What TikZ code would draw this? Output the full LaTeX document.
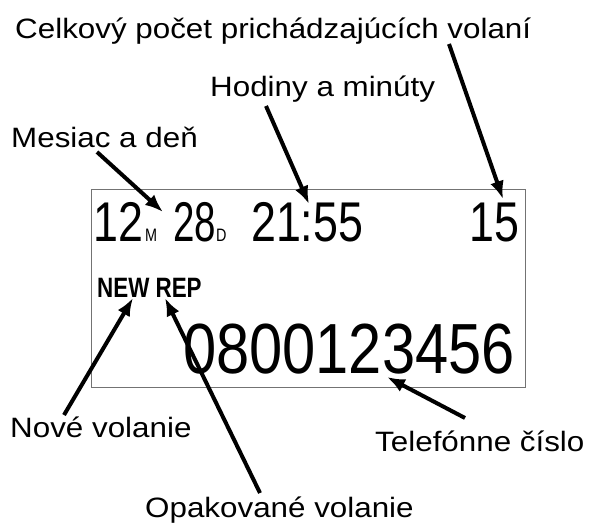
\documentclass[tikz,border=0pt]{standalone}
\usepackage{fontspec}
\setmainfont{Liberation Sans}
\usetikzlibrary{arrows.meta,calc}

\begin{document}
\begin{tikzpicture}[
  x=1pt,y=-1pt,
  lbl/.style={anchor=base west,inner sep=0pt,xscale=1.12,font=\fontsize{28}{30}\selectfont},
  lcd/.style={anchor=base west,inner sep=0pt,xscale=0.8,font=\fontsize{56}{60}\selectfont},
  lcdsub/.style={anchor=base west,inner sep=0pt,xscale=0.8,font=\fontsize{18}{19}\selectfont},
  flag/.style={anchor=base west,inner sep=0pt,xscale=0.8,font=\bfseries\fontsize{28}{30}\selectfont},
  number/.style={anchor=base west,inner sep=0pt,xscale=0.84,font=\fontsize{71}{75}\selectfont},
  screen/.style={draw=black!55,line width=1.2pt,inner sep=0pt},
  pointer/.style={line width=4pt,-{Latex[length=18pt,width=14pt]}},
]
\useasboundingbox (0,0) rectangle (595,524);

% display
\node[screen,anchor=north west,minimum width=434pt,minimum height=198pt] (screen) at (91,189) {};
\node[lcd] (month) at (93,242) {12};
\node[lcdsub] (msub) at (145,242) {M};
\node[lcd,xscale=0.86] (day) at (173,242) {28};
\node[lcdsub] (dsub) at (216,242) {D};
\node[lcd] (clock) at (251,242) {21:55};
\node[lcd] (total) at (469,242) {15};
\node[flag] (flags) at (97,298) {NEW REP};
\node[number] (phone) at (183,373) {0800123456};

% labels
\node[lbl] (celk) at (15,39) {Celkový počet prichádzajúcích volaní};
\node[lbl] (hod) at (210,97) {Hodiny a minúty};
\node[lbl] (mes) at (11,148) {Mesiac a deň};
\node[lbl] (nove) at (10,437) {Nové volanie};
\node[lbl] (opak) at (145,517) {Opakované volanie};
\node[lbl] (tel) at (375,451) {Telefónne číslo};

% arrow tips
\coordinate (tipMes) at (163,212);
\coordinate (tipHod) at (309,204);
\coordinate (tipCnt) at (503,199);
\coordinate (tipNew) at (133,298);
\coordinate (tipRep) at (165,298);
\coordinate (tipNum) at (387,377);

\draw[pointer] ($(mes.base west)+(86,4)$) -- (tipMes);
\draw[pointer] ($(hod.base west)+(56,9)$) -- (tipHod);
\draw[pointer] ($(celk.base west)+(434,5)$) -- (tipCnt);
\draw[pointer] ($(nove.base west)+(54,-22)$) -- (tipNew);
\draw[pointer] ($(opak.base west)+(115,-24)$) -- (tipRep);
\draw[pointer] ($(tel.base west)+(90,-33)$) -- (tipNum);
\end{tikzpicture}
\end{document}
